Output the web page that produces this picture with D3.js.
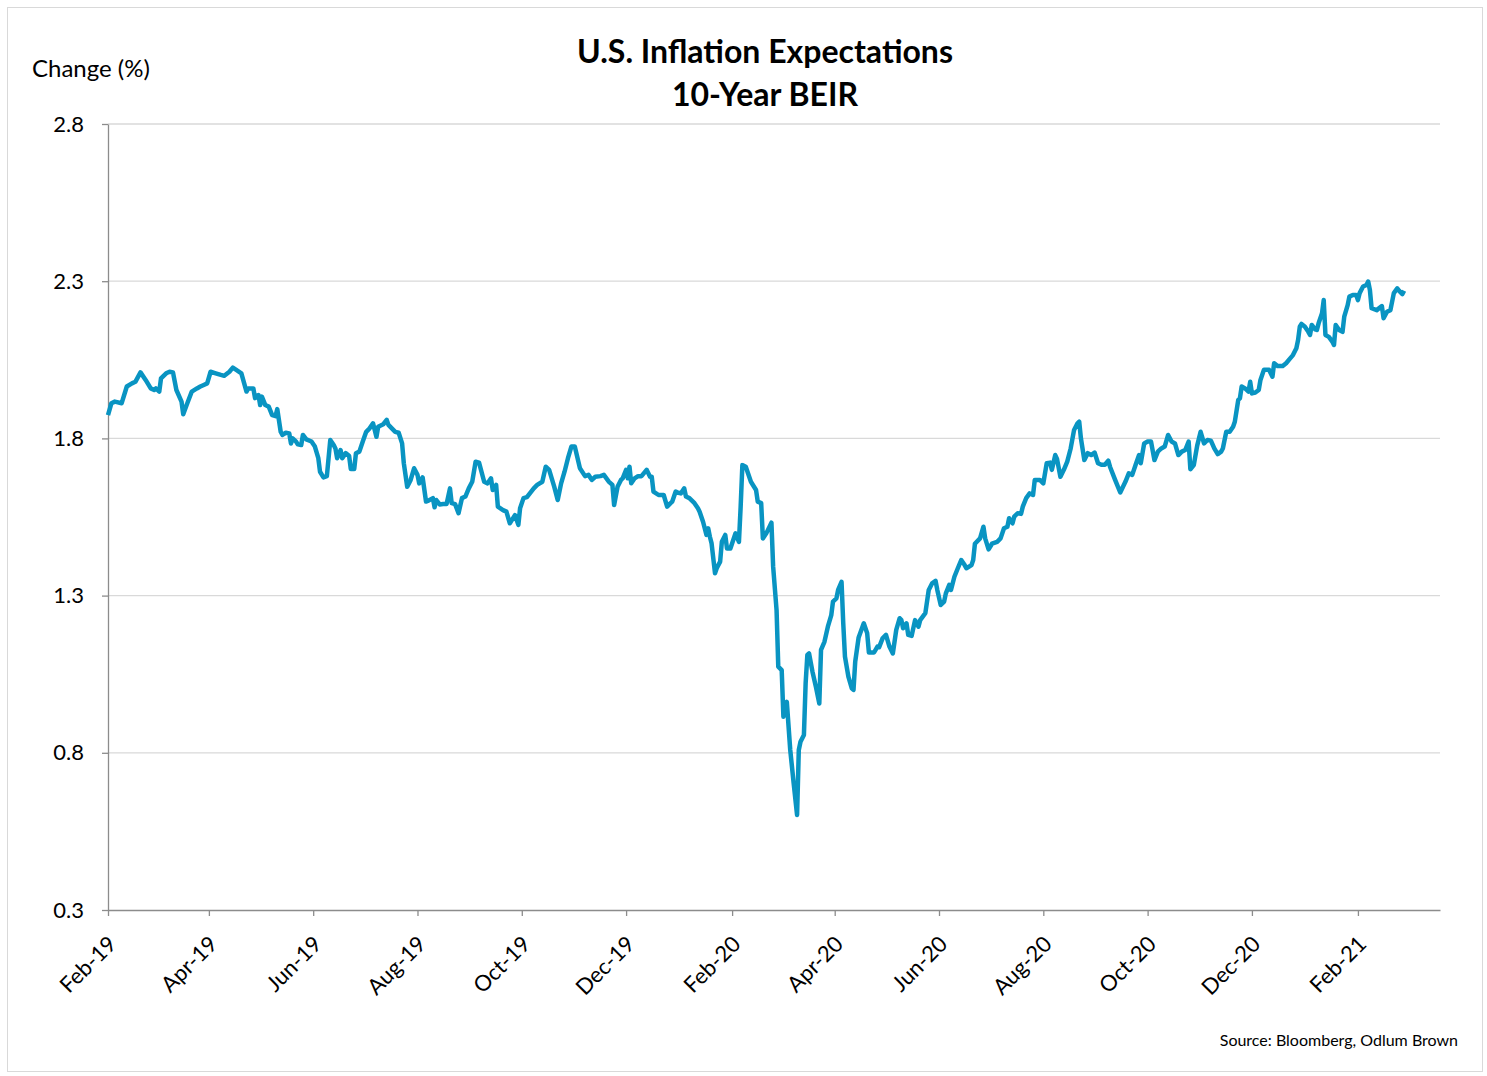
<!DOCTYPE html>
<html>
<head>
<meta charset="utf-8">
<script src="https://cdn.jsdelivr.net/npm/d3@7"></script>
<style>
    body { margin: 0; background: #fff; }
    text { font-family: Lato, "Open Sans", sans-serif; fill: #000; }
    .axis path, .axis line { stroke: #8c8c8c; }
</style>
</head>
<body>
<svg width="1487" height="1076"></svg>
<script>
// days after 1 Feb 2019
const startDate = new Date(2019, 1, 1);
const endDate = new Date(2021, 2, 21);
const dayOffsets = [
    0, 2, 4, 8, 11, 14, 16, 19, 22, 25, 27, 28, 30, 31, 34, 36, 38, 40, 43, 44,
    46, 49, 52, 54, 56, 58, 60, 63, 66, 68, 71, 73, 75, 78, 81, 82, 85, 86, 88, 89,
    90, 92, 94, 96, 98, 99, 101, 102, 104, 106, 107, 108, 110, 111, 113, 114, 116, 119, 121, 123,
    124, 126, 128, 130, 132, 133, 134, 136, 137, 139, 141, 142, 144, 145, 147, 149, 151, 153, 155, 157,
    158, 161, 163, 164, 168, 170, 172, 173, 175, 177, 179, 181, 182, 184, 186, 187, 190, 191, 192, 194,
    196, 198, 200, 201, 203, 205, 207, 209, 211, 213, 215, 217, 220, 222, 224, 225, 227, 228, 231, 233,
    235, 238, 240, 241, 243, 245, 249, 251, 254, 256, 258, 261, 263, 265, 267, 269, 271, 273, 276, 279,
    281, 283, 285, 288, 290, 293, 295, 296, 298, 300, 301, 303, 304, 305, 306, 308, 310, 312, 315, 317,
    318, 319, 322, 325, 327, 329, 330, 332, 333, 335, 337, 338, 340, 343, 345, 346, 348, 350, 351, 352,
    353, 355, 356, 358, 359, 361, 362, 364, 367, 369, 370, 371, 373, 376, 379, 380, 382, 383, 385, 388,
    389, 391, 392, 394, 395, 397, 399, 401, 403, 404, 405, 407, 408, 409, 410, 412, 414, 416, 417, 419,
    421, 423, 424, 426, 427, 429, 430, 431, 433, 435, 436, 437, 439, 442, 444, 445, 448, 450, 451, 453,
    455, 457, 459, 461, 463, 464, 465, 467, 468, 470, 472, 474, 475, 478, 480, 482, 484, 485, 487, 489,
    490, 492, 493, 495, 497, 499, 501, 502, 505, 506, 507, 510, 512, 513, 515, 517, 520, 522, 524, 526,
    527, 529, 530, 532, 534, 535, 537, 539, 541, 542, 545, 547, 549, 551, 552, 554, 555, 557, 559, 561,
    563, 565, 567, 568, 569, 571, 573, 575, 577, 579, 581, 583, 585, 586, 589, 592, 595, 597, 599, 601,
    603, 604, 606, 608, 610, 612, 614, 616, 618, 620, 622, 624, 626, 628, 630, 632, 633, 635, 637, 639,
    641, 643, 645, 647, 649, 651, 652, 654, 656, 658, 659, 661, 662, 663, 665, 667, 668, 669, 671, 673,
    674, 676, 679, 681, 682, 684, 687, 689, 691, 693, 695, 696, 697, 698, 700, 702, 703, 704, 706, 707,
    708, 710, 711, 712, 714, 716, 717, 718, 720, 722, 723, 725, 726, 728, 730, 731, 732, 734, 736, 737,
    738, 739, 742, 745, 746, 748, 750, 752, 754, 755, 757, 758,
];
const beir = [
    1.874, 1.912, 1.917, 1.912, 1.965, 1.975, 1.980, 2.010, 1.986, 1.959, 1.954, 1.959, 1.949, 1.991, 2.007, 2.012, 2.010, 1.954, 1.917, 1.877,
    1.906, 1.949, 1.959, 1.965, 1.970, 1.975, 2.012, 2.007, 2.002, 1.999, 2.012, 2.025, 2.018, 2.007, 1.949, 1.959, 1.959, 1.928, 1.938, 1.906,
    1.933, 1.906, 1.901, 1.874, 1.871, 1.893, 1.821, 1.811, 1.818, 1.816, 1.784, 1.800, 1.790, 1.781, 1.779, 1.811, 1.797, 1.790, 1.774, 1.737,
    1.694, 1.676, 1.680, 1.795, 1.779, 1.768, 1.737, 1.763, 1.737, 1.753, 1.745, 1.703, 1.703, 1.753, 1.758, 1.790, 1.821, 1.832, 1.848, 1.805,
    1.837, 1.845, 1.859, 1.843, 1.821, 1.818, 1.784, 1.721, 1.646, 1.668, 1.705, 1.684, 1.657, 1.676, 1.599, 1.601, 1.610, 1.581, 1.604, 1.590,
    1.591, 1.591, 1.641, 1.594, 1.591, 1.562, 1.610, 1.615, 1.641, 1.662, 1.726, 1.723, 1.662, 1.657, 1.673, 1.636, 1.652, 1.583, 1.572, 1.567,
    1.530, 1.556, 1.525, 1.578, 1.610, 1.613, 1.641, 1.652, 1.662, 1.710, 1.700, 1.646, 1.604, 1.657, 1.694, 1.737, 1.774, 1.774, 1.705, 1.680,
    1.684, 1.668, 1.678, 1.680, 1.684, 1.662, 1.652, 1.588, 1.646, 1.668, 1.673, 1.700, 1.673, 1.710, 1.657, 1.673, 1.680, 1.680, 1.700, 1.678,
    1.678, 1.631, 1.620, 1.620, 1.583, 1.594, 1.599, 1.631, 1.628, 1.625, 1.641, 1.615, 1.610, 1.594, 1.578, 1.567, 1.535, 1.493, 1.514, 1.487,
    1.466, 1.371, 1.387, 1.408, 1.471, 1.493, 1.450, 1.450, 1.498, 1.471, 1.583, 1.715, 1.710, 1.662, 1.636, 1.599, 1.594, 1.482, 1.498, 1.532,
    1.392, 1.254, 1.074, 1.063, 0.915, 0.962, 0.809, 0.703, 0.602, 0.809, 0.835, 0.857, 1.021, 1.111, 1.116, 1.058, 1.010, 0.957, 1.127, 1.153,
    1.201, 1.238, 1.281, 1.291, 1.318, 1.344, 1.212, 1.106, 1.042, 1.005, 1.000, 1.090, 1.167, 1.212, 1.180, 1.119, 1.119, 1.138, 1.136, 1.164,
    1.175, 1.138, 1.116, 1.191, 1.228, 1.222, 1.196, 1.212, 1.175, 1.172, 1.222, 1.201, 1.222, 1.244, 1.318, 1.339, 1.347, 1.318, 1.270, 1.281,
    1.307, 1.334, 1.318, 1.360, 1.387, 1.413, 1.397, 1.387, 1.397, 1.413, 1.465, 1.482, 1.519, 1.482, 1.447, 1.465, 1.471, 1.482, 1.514, 1.519,
    1.546, 1.530, 1.551, 1.562, 1.560, 1.583, 1.610, 1.625, 1.620, 1.668, 1.668, 1.657, 1.721, 1.723, 1.700, 1.747, 1.735, 1.678, 1.700, 1.726,
    1.768, 1.827, 1.848, 1.853, 1.800, 1.731, 1.753, 1.747, 1.755, 1.721, 1.716, 1.716, 1.729, 1.710, 1.668, 1.628, 1.662, 1.689, 1.684, 1.716,
    1.747, 1.721, 1.784, 1.790, 1.790, 1.731, 1.758, 1.768, 1.774, 1.811, 1.790, 1.784, 1.747, 1.758, 1.763, 1.790, 1.702, 1.715, 1.777, 1.821,
    1.784, 1.795, 1.793, 1.768, 1.750, 1.758, 1.768, 1.821, 1.821, 1.837, 1.853, 1.922, 1.928, 1.965, 1.959, 1.949, 1.980, 1.943, 1.946, 1.954,
    1.986, 2.018, 2.018, 1.996, 2.039, 2.030, 2.030, 2.039, 2.052, 2.065, 2.087, 2.113, 2.155, 2.164, 2.155, 2.139, 2.129, 2.161, 2.147, 2.145,
    2.166, 2.198, 2.240, 2.129, 2.123, 2.108, 2.097, 2.161, 2.145, 2.139, 2.187, 2.224, 2.251, 2.256, 2.256, 2.240, 2.262, 2.283, 2.288, 2.299,
    2.272, 2.214, 2.208, 2.221, 2.182, 2.203, 2.208, 2.262, 2.277, 2.270, 2.259, 2.270,
];
const xTickLabels = [
    "Feb-19", "Apr-19", "Jun-19", "Aug-19", "Oct-19", "Dec-19", "Feb-20",
    "Apr-20", "Jun-20", "Aug-20", "Oct-20", "Dec-20", "Feb-21",
];
const yTicks = [0.3, 0.8, 1.3, 1.8, 2.3, 2.8];

const parseLabel = d3.timeParse("%b-%y");
const data = dayOffsets.map((d, i) => ({
    date: d3.timeDay.offset(startDate, d),
    value: beir[i],
}));

const svg = d3.select("svg");
const margin = {
    top: 124,
    right: 47,
    bottom: 166,
    left: 108,
};
const width = Number(svg.attr("width")) - margin.left - margin.right;
const height = Number(svg.attr("height")) - margin.top - margin.bottom;

// outer frame
svg.append("rect")
    .attr("x", 7.5)
    .attr("y", 7.5)
    .attr("width", 1475)
    .attr("height", 1064)
    .attr("fill", "none")
    .attr("stroke", "#d9d9d9")
;

const g = svg.append("g")
    .attr("transform", `translate(${margin.left},${margin.top})`);

const xScale = d3.scaleTime()
    .domain([startDate, endDate])
    .range([0, width]);
const yScale = d3.scaleLinear()
    .domain([0.3, 2.8])
    .range([height, 0]);

// grid lines
g.append("g")
    .selectAll("line")
    .data(yTicks.slice(1))
    .join("line")
    .attr("x1", 0)
    .attr("x2", width)
    .attr("y1", d => yScale(d))
    .attr("y2", d => yScale(d))
    .attr("stroke", "#d9d9d9")
    .attr("stroke-width", 1.3)
;

// x axis
g.append("g")
    .attr("class", "axis axis--x")
    .attr("transform", `translate(0, ${height})`)
    .call(d3.axisBottom(xScale)
        .tickValues(xTickLabels.map(parseLabel))
        .tickFormat(d3.timeFormat("%b-%y"))
        .tickSize(6)
        .tickSizeOuter(0))
    .call(ax => ax.selectAll("text")
        .attr("font-size", 22)
        .attr("text-anchor", "end")
        .attr("dx", 0)
        .attr("dy", 0)
        .attr("transform", "translate(3, 29) rotate(-45)"))
;

// y axis
g.append("g")
    .attr("class", "axis axis--y")
    .call(d3.axisLeft(yScale)
        .tickValues(yTicks)
        .tickFormat(d3.format(".1f"))
        .tickSize(6)
        .tickSizeOuter(0))
    .call(ax => ax.selectAll("text")
        .attr("font-size", 22)
        .attr("x", -24))
;
g.selectAll(".axis path, .axis line").attr("stroke-width", 1.3);
g.selectAll(".axis text").attr("fill", "#000");

// line
g.append("path")
    .datum(data)
    .attr("d", d3.line()
        .x(d => xScale(d.date))
        .y(d => yScale(d.value))
    )
    .attr("stroke", "#0994c2")
    .attr("stroke-width", 4.5)
    .attr("stroke-linejoin", "round")
    .attr("fill", "none")
;

// titles
svg.append("text")
    .attr("x", 765)
    .attr("y", 63)
    .attr("text-anchor", "middle")
    .attr("font-size", 32)
    .attr("font-weight", "bold")
    .text("U.S. Inflation Expectations")
;
svg.append("text")
    .attr("x", 765)
    .attr("y", 106)
    .attr("text-anchor", "middle")
    .attr("font-size", 32)
    .attr("font-weight", "bold")
    .text("10-Year BEIR")
;
svg.append("text")
    .attr("x", 32)
    .attr("y", 77)
    .attr("font-size", 24)
    .text("Change (%)")
;
svg.append("text")
    .attr("x", 1458)
    .attr("y", 1046)
    .attr("text-anchor", "end")
    .attr("font-size", 16)
    .text("Source: Bloomberg, Odlum Brown")
;
</script>
</body>
</html>
